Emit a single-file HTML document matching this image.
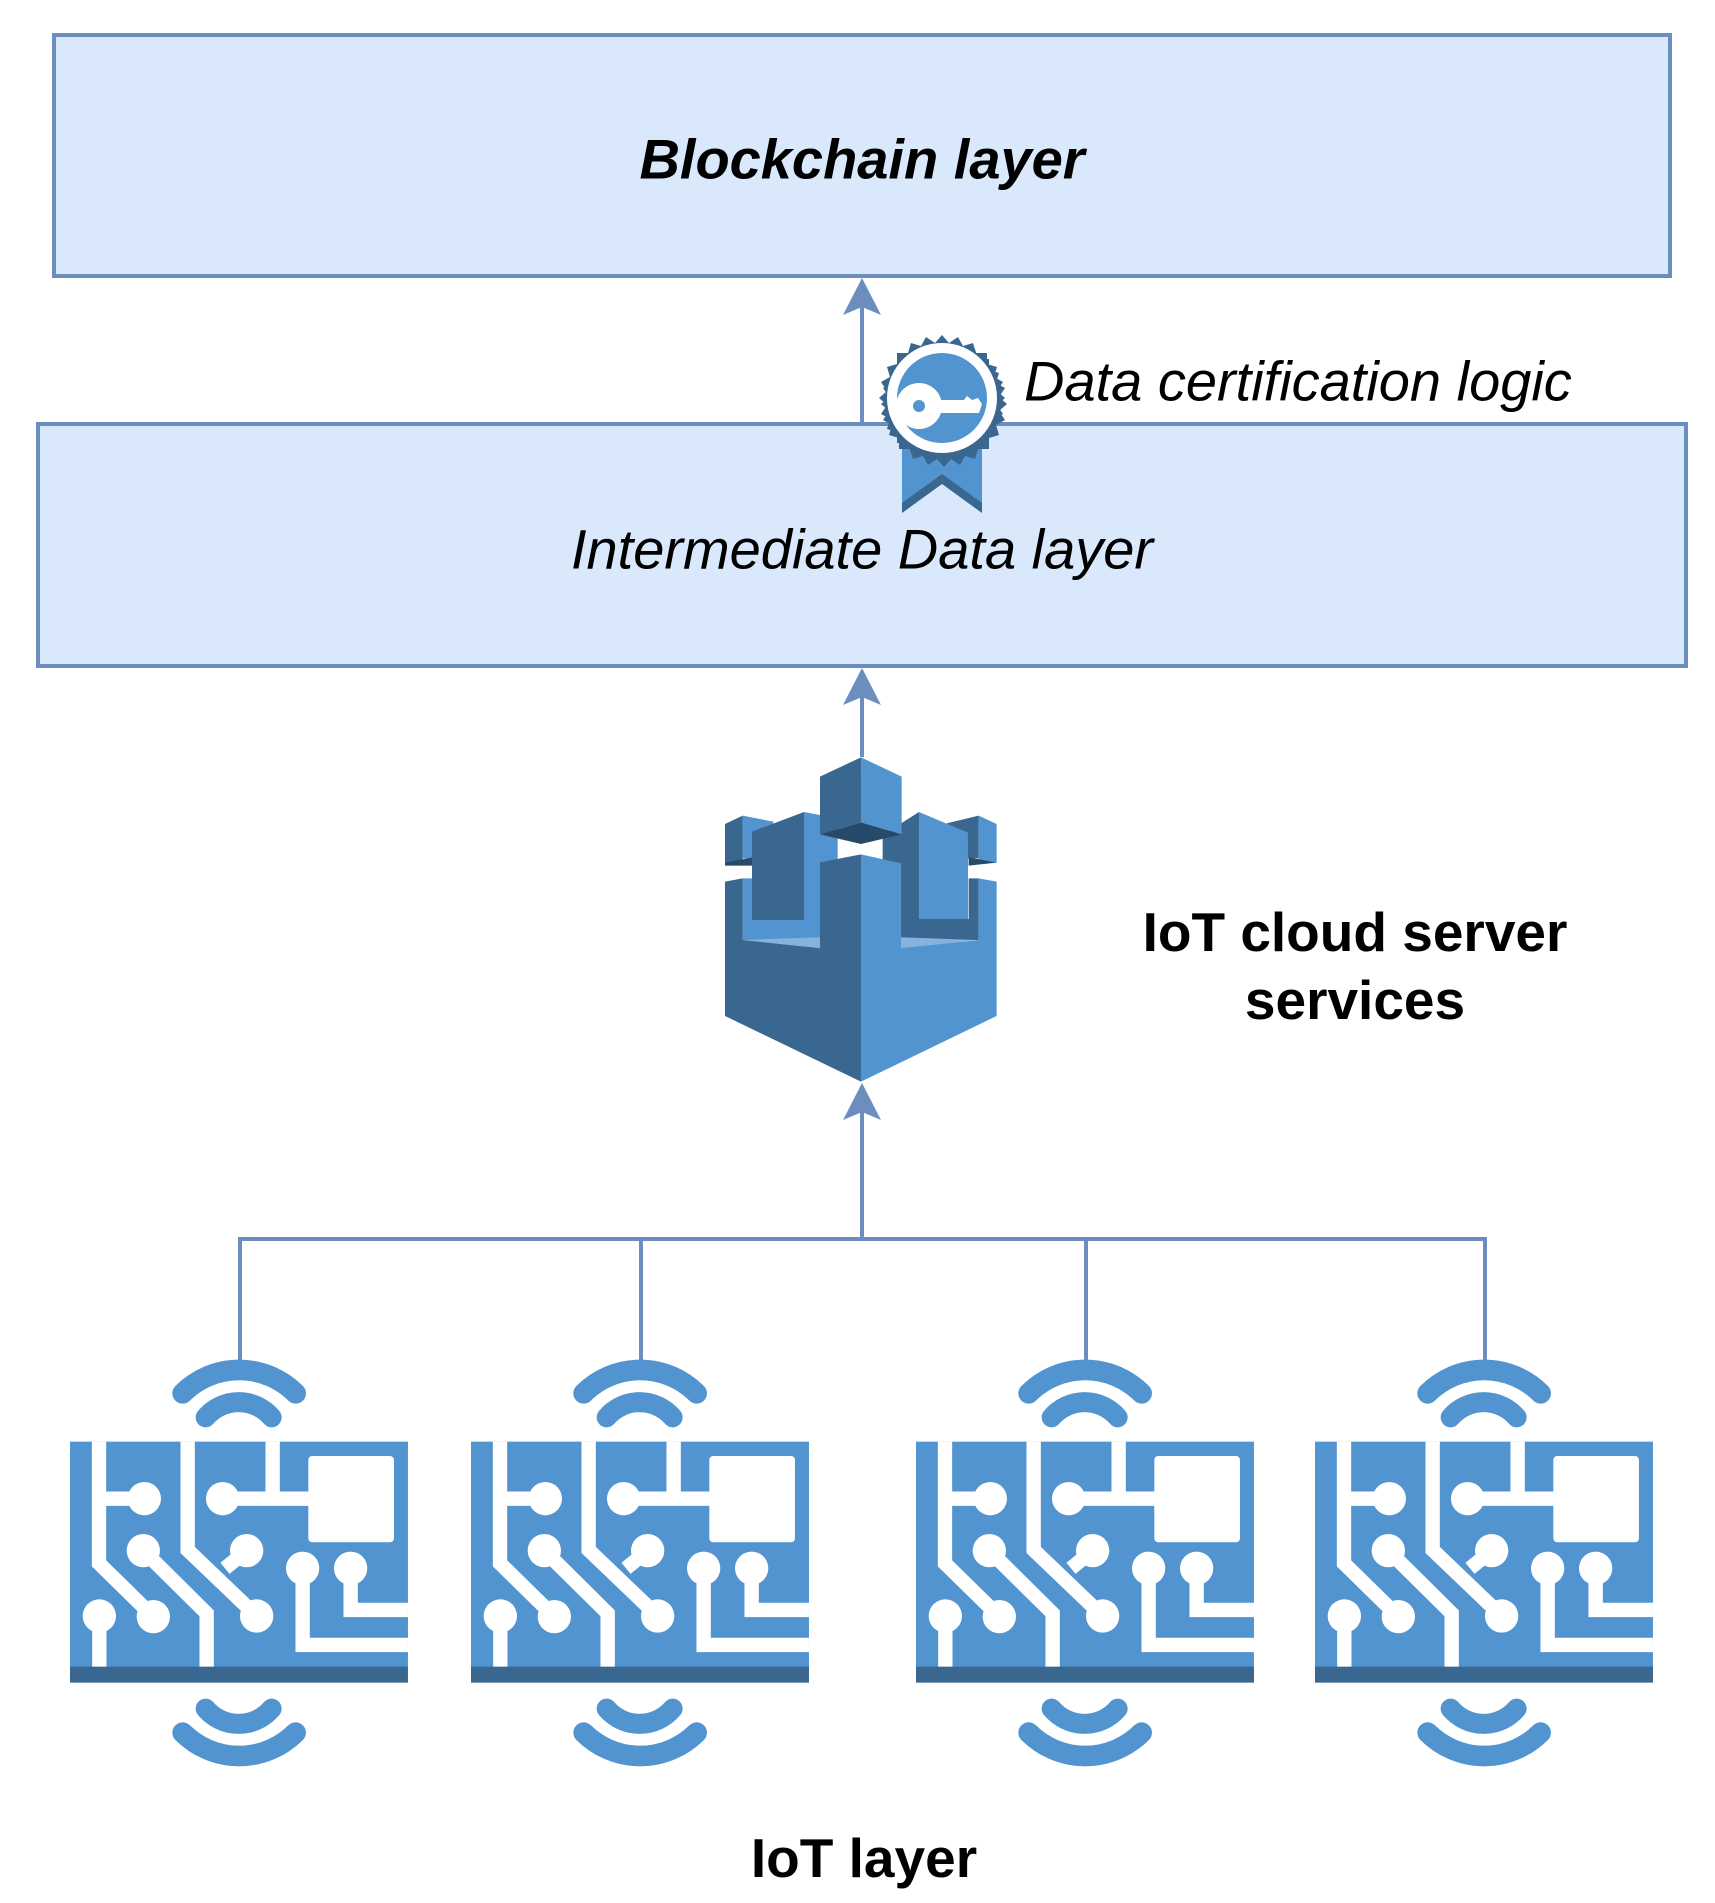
<!DOCTYPE html>
<html><head><meta charset="utf-8"><style>
html,body{margin:0;padding:0;background:#fff;}
svg{display:block;}
text{font-family:"Liberation Sans",sans-serif;}
</style></head><body>
<svg width="1715" height="1903" viewBox="0 0 1715 1903" xmlns="http://www.w3.org/2000/svg">
<defs>
<g id="dev">
  <g fill="none" stroke="#5294CF" stroke-linecap="round">
    <path d="M398,190 A240,240 0 0 1 737,190" stroke-width="62"/>
    <path d="M467,262 A130,130 0 0 1 665,262" stroke-width="60"/>
  </g>
  <g fill="none" stroke="#5294CF" stroke-linecap="round" transform="translate(0,1398) scale(1,-1)">
    <path d="M398,190 A240,240 0 0 1 737,190" stroke-width="62"/>
    <path d="M467,262 A130,130 0 0 1 665,262" stroke-width="60"/>
  </g>
  <rect x="60" y="335" width="1014" height="677" fill="#5294CF"/>
  <rect x="60" y="1010" width="1014" height="48" fill="#3A6790"/>
  <g fill="none" stroke="#fff" stroke-width="43">
    <path d="M147,335 V700 L310,860"/>
    <path d="M147,506 H283"/>
    <path d="M148,858 V1010"/>
    <path d="M280,662 L470,850 V1010"/>
    <path d="M413,335 V660 L620,858"/>
    <path d="M525,715 L590,662"/>
    <path d="M518,506 H780"/>
    <path d="M668,335 V506"/>
    <path d="M758,715 V945 H1074"/>
    <path d="M902,715 V840 H1074"/>
  </g>
  <g fill="#fff">
    <circle cx="283" cy="506" r="50"/>
    <circle cx="518" cy="506" r="50"/>
    <circle cx="280" cy="662" r="50"/>
    <circle cx="590" cy="662" r="50"/>
    <circle cx="148" cy="858" r="50"/>
    <circle cx="310" cy="860" r="50"/>
    <circle cx="620" cy="858" r="50"/>
    <circle cx="758" cy="715" r="50"/>
    <circle cx="902" cy="715" r="50"/>
    <rect x="775" y="378" width="257" height="259" rx="12"/>
  </g>
</g>
<polygon id="ah" points="0,0 -19,37 0,29 19,37" fill="#6C8EBF"/>
</defs>

<rect x="54" y="35" width="1616" height="241" fill="#DAE8FC" stroke="#6C8EBF" stroke-width="4"/>
<rect x="38" y="424" width="1648" height="242" fill="#DAE8FC" stroke="#6C8EBF" stroke-width="4"/>
<text x="862" y="159" font-size="56" font-weight="bold" font-style="italic" text-anchor="middle" dominant-baseline="central">Blockchain layer</text>
<text x="862" y="549" font-size="56" font-style="italic" text-anchor="middle" dominant-baseline="central">Intermediate Data layer</text>
<text x="1024" y="381" font-size="56" font-style="italic" dominant-baseline="central">Data certification logic</text>

<g stroke="#6C8EBF" stroke-width="4" fill="none">
  <line x1="862" y1="424" x2="862" y2="300"/>
  <line x1="862" y1="757" x2="862" y2="690"/>
  <line x1="862" y1="1239" x2="862" y2="1110"/>
  <path d="M240,1360 V1239 H1485 V1360"/>
  <line x1="641" y1="1239" x2="641" y2="1360"/>
  <line x1="1086" y1="1239" x2="1086" y2="1360"/>
</g>
<use href="#ah" x="862" y="278"/>
<use href="#ah" x="862" y="668"/>
<use href="#ah" x="862" y="1083"/>

<g>
  <polygon points="902,445 982,445 982,513 942,484 902,513" fill="#3A6790"/>
  <polygon points="902,445 982,445 982,503 942,474 902,503" fill="#5294CF"/>
  <g transform="translate(942,398)">
    <g transform="translate(2,6)"><polygon id="star" fill="#3A6790" points="0,-63 7,-55 16,-61 21,-52 31,-55 34,-45 45,-45 45,-34 55,-31 52,-21 61,-16 55,-7 63,0 55,7 61,16 52,21 55,31 45,34 45,45 34,45 31,55 21,52 16,61 7,55 0,63 -7,55 -16,61 -21,52 -31,55 -34,45 -45,45 -45,34 -55,31 -52,21 -61,16 -55,7 -63,0 -55,-7 -61,-16 -52,-21 -55,-31 -45,-34 -45,-45 -34,-45 -31,-55 -21,-52 -16,-61 -7,-55"/></g>
    <use href="#star" fill="#5294CF"/>
    <circle r="55" fill="#fff"/>
    <circle r="45" fill="#5294CF"/>
    <circle cx="-23" cy="8" r="23" fill="#fff"/>
    <path d="M-5,2 H22 L25,-2 L30,2 L36,0 L40,6 L37,15 H-5 Z" fill="#fff"/>
    <circle cx="-23" cy="8" r="6" fill="#5294CF"/>
  </g>
</g>

<g transform="translate(700,700) scale(0.3333)">
  <polygon points="128,347 220,365 220,480 128,475" fill="#5294CF"/>
  <polygon points="75,372 128,347 128,488 75,488" fill="#3A6790"/>
  <polygon points="75,488 158,472 158,497 75,497" fill="#274A6A"/>
  <polygon points="740,370 836,347 836,475 740,475" fill="#3A6790"/>
  <polygon points="836,347 890,372 890,488 836,488" fill="#5294CF"/>
  <polygon points="806,472 890,488 806,497" fill="#274A6A"/>
  <polygon points="312,336 413,355 413,745 312,745" fill="#5294CF"/>
  <polygon points="128,535 360,535 360,720 128,720" fill="#5294CF"/>
  <polygon points="156,395 312,336 312,660 156,660" fill="#3A6790"/>
  <polygon points="128,720 360,712 360,745" fill="#85B3DF"/>
  <polygon points="548,405 657,336 657,657 806,657 806,535 836,535 836,720 603,720 603,490 548,490" fill="#3A6790"/>
  <polygon points="657,336 804,398 804,657 657,657" fill="#5294CF"/>
  <polygon points="603,712 828,720 603,747" fill="#85B3DF"/>
  <polygon points="75,545 128,535 128,720 360,745 360,487 483,463 483,1145 75,948" fill="#3A6790"/>
  <polygon points="483,463 603,490 603,745 836,720 836,535 890,545 890,948 483,1145" fill="#5294CF"/>
  <polygon points="360,230 483,172 483,367 360,403" fill="#3A6790"/>
  <polygon points="483,172 605,230 605,403 483,367" fill="#5294CF"/>
  <polygon points="360,403 483,367 605,403 483,432" fill="#274A6A"/>
</g>

<text x="1355" y="932" font-size="55" font-weight="bold" text-anchor="middle" dominant-baseline="central">IoT cloud server</text>
<text x="1355" y="1000" font-size="55" font-weight="bold" text-anchor="middle" dominant-baseline="central">services</text>

<g transform="translate(50,1330) scale(0.3333)"><use href="#dev"/></g>
<g transform="translate(451,1330) scale(0.3333)"><use href="#dev"/></g>
<g transform="translate(896,1330) scale(0.3333)"><use href="#dev"/></g>
<g transform="translate(1295,1330) scale(0.3333)"><use href="#dev"/></g>

<text x="864" y="1858" font-size="55" font-weight="bold" text-anchor="middle" dominant-baseline="central">IoT layer</text>
</svg>
</body></html>
